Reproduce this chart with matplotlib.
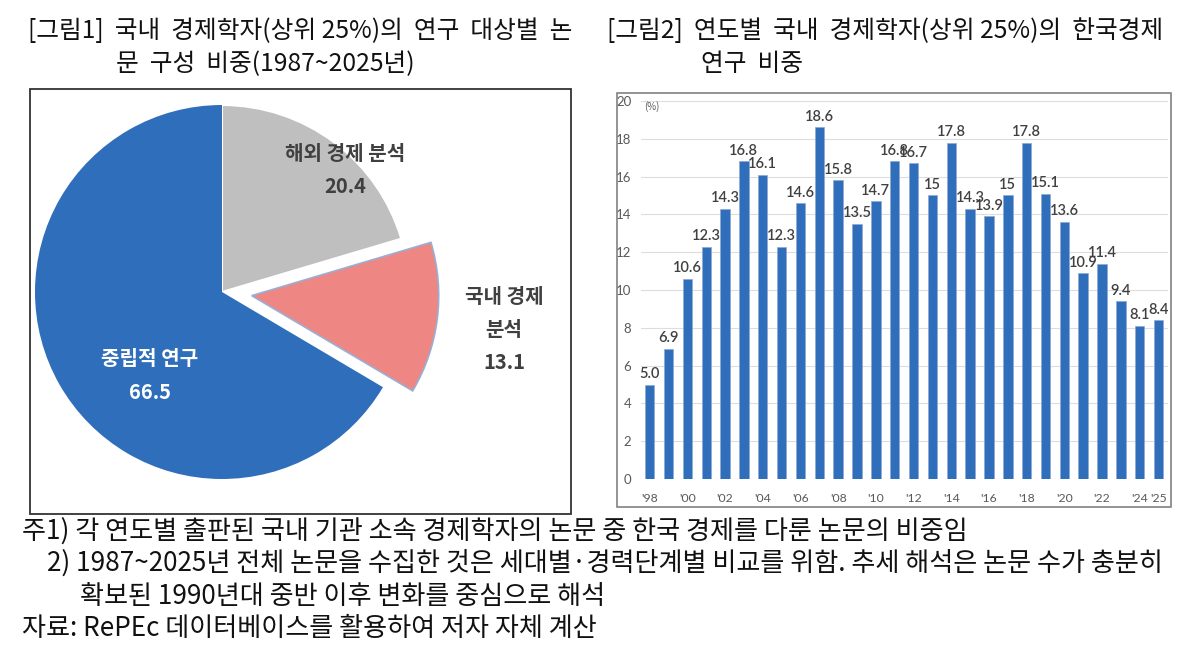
import matplotlib
matplotlib.use('Agg')
import matplotlib.pyplot as plt
from matplotlib.patches import Rectangle

plt.rcParams['font.family'] = ['Noto Sans CJK KR', 'DejaVu Sans']

# ---- data ----
pie_labels = ['해외 경제 분석', '국내 경제\n분석', '중립적 연구']
pie_values = [20.4, 13.1, 66.5]

year_ticks = ["'98", "'00", "'02", "'04", "'06", "'08", "'10", "'12",
              "'14", "'16", "'18", "'20", "'22", "'24", "'25"]
year_tick_pos = [0, 2, 4, 6, 8, 10, 12, 14, 16, 18, 20, 22, 24, 26, 27]
korea_share = [5.0, 6.9, 10.6, 12.3, 14.3, 16.8, 16.1, 12.3, 14.6, 18.6,
               15.8, 13.5, 14.7, 16.8, 16.7, 15.0, 17.8, 14.3, 13.9, 15.0,
               17.8, 15.1, 13.6, 10.9, 11.4, 9.4, 8.1, 8.4]
share_labels = ['5.0', '6.9', '10.6', '12.3', '14.3', '16.8', '16.1', '12.3',
                '14.6', '18.6', '15.8', '13.5', '14.7', '16.8', '16.7', '15',
                '17.8', '14.3', '13.9', '15', '17.8', '15.1', '13.6', '10.9',
                '11.4', '9.4', '8.1', '8.4']

notes = ['주1) 각 연도별 출판된 국내 기관 소속 경제학자의 논문 중 한국 경제를 다룬 논문의 비중임',
         '2) 1987~2025년 전체 논문을 수집한 것은 세대별·경력단계별 비교를 위함. 추세 해석은 논문 수가 충분히',
         '확보된 1990년대 중반 이후 변화를 중심으로 해석',
         '자료: RePEc 데이터베이스를 활용하여 저자 자체 계산']

W, H = 1200, 654
BLUE = '#2F6EBA'
GRAY = '#BFBFBF'
PINK = '#EE8784'
TXT = '#404040'

fig = plt.figure(figsize=(W / 100, H / 100), dpi=100)


def fx(px):
    return px / W


def fy(py):
    return 1 - py / H


# ---- titles ----
tkw = dict(fontsize=17.8, va='center', ha='left', color='#111111')
fig.text(fx(28), fy(31), '[그림1]  국내  경제학자(상위 25%)의  연구  대상별  논', **tkw)
fig.text(fx(116), fy(64), '문  구성  비중(1987~2025년)', **tkw)
fig.text(fx(607), fy(31), '[그림2]  연도별  국내  경제학자(상위 25%)의  한국경제', **tkw)
fig.text(fx(701), fy(64), '연구  비중', **tkw)

# ---- pie (axes in pixel units) ----
bx0, by0, bx1, by1 = 30, 89, 571, 514
axp = fig.add_axes([fx(bx0), fy(by1), fx(bx1 - bx0), (by1 - by0) / H])
cx, cy, r = 222 - bx0, by1 - 292, 187
wedges, _ = axp.pie(pie_values, colors=[GRAY, PINK, BLUE], startangle=90,
                    counterclock=False, explode=[0, 0.16 * r, 0],
                    radius=r, center=(cx, cy),
                    wedgeprops=dict(edgecolor='white', linewidth=1.5))
wedges[1].set_edgecolor('#9AAED3')
wedges[1].set_linewidth(1.2)
wedges[2].set_linewidth(0)
axp.set_aspect('auto')
axp.set_xlim(0, bx1 - bx0)
axp.set_ylim(0, by1 - by0)
axp.axis('off')

lkw = dict(fontsize=14.5, ha='center', va='center', fontweight='bold')
axp.text(345 - bx0, by1 - 153, pie_labels[0], color=TXT, **lkw)
axp.text(345 - bx0, by1 - 186, f'{pie_values[0]:.1f}', color=TXT, **lkw)
axp.text(504 - bx0, by1 - 313, pie_labels[1], color=TXT, linespacing=1.7, **lkw)
axp.text(504 - bx0, by1 - 362, f'{pie_values[1]:.1f}', color=TXT, **lkw)
axp.text(150 - bx0, by1 - 358, pie_labels[2], color='white', **lkw)
axp.text(150 - bx0, by1 - 392, f'{pie_values[2]:.1f}', color='white', **lkw)

fig.add_artist(Rectangle((fx(bx0), fy(by1)), fx(bx1 - bx0), (by1 - by0) / H,
                         transform=fig.transFigure, fill=False,
                         edgecolor='#333333', linewidth=1.3))

# ---- bar chart ----
axb = fig.add_axes([fx(641), fy(479), fx(1168 - 641), (479 - 101) / H])
xs = list(range(len(korea_share)))
axb.bar(xs, korea_share, width=0.5, color=BLUE, edgecolor='#8EA9D1',
        linewidth=0.5, zorder=3)
for x, v, s in zip(xs, korea_share, share_labels):
    axb.annotate(s, (x, v), xytext=(0, 2.5), textcoords='offset points',
                 ha='center', va='bottom', fontsize=10.5, color=TXT,
                 family=['Lato', 'DejaVu Sans'], fontweight='semibold')
axb.set_xlim(-0.46, 27.5)
axb.set_ylim(0, 20)
axb.set_yticks(range(0, 21, 2))
axb.set_xticks(year_tick_pos)
axb.set_xticklabels(year_ticks)
axb.tick_params(axis='both', length=0, labelsize=9.5, labelcolor='#595959',
                labelfontfamily='Lato')
axb.tick_params(axis='x', pad=10, labelsize=8.8)
axb.tick_params(axis='y', pad=7)
axb.grid(axis='y', color='#DDDDDD', linewidth=0.8, zorder=0)
for sp in axb.spines.values():
    sp.set_visible(False)
axb.text(0.005, 0.985, '(%)', transform=axb.transAxes, fontsize=7,
         color='#595959', va='center', ha='left')

fig.add_artist(Rectangle((fx(617), fy(507)), fx(1171 - 617), (507 - 93) / H,
                         transform=fig.transFigure, fill=False,
                         edgecolor='#777777', linewidth=1.1))

# ---- notes ----
nkw = dict(fontsize=18.8, va='center', ha='left', color='#111111')
fig.text(fx(22), fy(531), notes[0], **nkw)
fig.text(fx(47), fy(563), notes[1], **nkw)
fig.text(fx(80), fy(596), notes[2], **nkw)
fig.text(fx(22), fy(628), notes[3], **nkw)

fig.savefig('out.png', dpi=100)
